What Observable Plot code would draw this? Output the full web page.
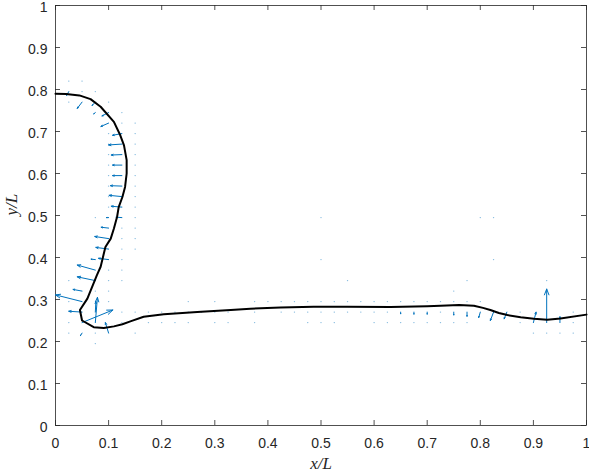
<!DOCTYPE html>
<html>
<head>
<meta charset="utf-8">
<script src="https://cdn.jsdelivr.net/npm/d3@7"></script>
<script src="https://cdn.jsdelivr.net/npm/@observablehq/plot@0.6"></script>
<style>
  html, body { margin: 0; padding: 0; background: #fff; }
</style>
</head>
<body>
<div id="chart"></div>
<script>
// ---- data ----
const xTicks = [0, 0.1, 0.2, 0.3, 0.4, 0.5, 0.6, 0.7, 0.8, 0.9, 1];
const yTicks = [0, 0.1, 0.2, 0.3, 0.4, 0.5, 0.6, 0.7, 0.8, 0.9, 1];
const xLabel = "x/L";
const yLabel = "y/L";

// interface (black curve)
const interfaceX = [0, 0.02, 0.045, 0.066, 0.085, 0.11, 0.122, 0.129, 0.134, 0.134, 0.131, 0.126, 0.119, 0.116, 0.11, 0.104, 0.094, 0.085, 0.078, 0.069, 0.06, 0.046, 0.05, 0.072, 0.091, 0.11, 0.126, 0.141, 0.166, 0.204, 0.267, 0.33, 0.367, 0.424, 0.486, 0.549, 0.631, 0.7, 0.725, 0.76, 0.788, 0.805, 0.819, 0.835, 0.851, 0.876, 0.901, 0.926, 0.951, 1.0];
const interfaceY = [0.79, 0.789, 0.786, 0.777, 0.759, 0.723, 0.691, 0.667, 0.632, 0.6, 0.568, 0.544, 0.52, 0.497, 0.469, 0.445, 0.425, 0.378, 0.358, 0.33, 0.302, 0.275, 0.25, 0.234, 0.232, 0.236, 0.241, 0.248, 0.259, 0.265, 0.27, 0.275, 0.278, 0.281, 0.283, 0.283, 0.282, 0.284, 0.285, 0.287, 0.285, 0.28, 0.275, 0.268, 0.263, 0.258, 0.254, 0.252, 0.255, 0.264];

// velocity vectors (tail position and displacement)
const arrowX = [0.025, 0.05, 0.075, 0.075, 0.1, 0.1, 0.125, 0.125, 0.125, 0.125, 0.125, 0.125, 0.125, 0.125, 0.125, 0.1, 0.1, 0.1, 0.1, 0.075, 0.1, 0.075, 0.075, 0.05, 0.05, 0.05, 0.05, 0.075, 0.075, 0.1, 0.05, 0.65, 0.675, 0.7, 0.75, 0.775, 0.8, 0.825, 0.85, 0.9, 0.925, 0.95];
const arrowY = [0.795, 0.77, 0.77, 0.745, 0.745, 0.72, 0.695, 0.67, 0.645, 0.62, 0.595, 0.57, 0.545, 0.52, 0.495, 0.495, 0.47, 0.445, 0.42, 0.395, 0.395, 0.37, 0.345, 0.32, 0.295, 0.27, 0.245, 0.245, 0.27, 0.22, 0.22, 0.27, 0.27, 0.27, 0.27, 0.27, 0.27, 0.27, 0.27, 0.245, 0.245, 0.245];
const arrowU = [-0.004, -0.009, -0.006, -0.003, -0.0125, -0.0145, -0.0175, -0.025, -0.02, -0.0175, -0.0175, -0.0215, -0.024, -0.02, -0.011, -0.004, -0.014, -0.026, -0.024, -0.008, -0.019, -0.034, -0.034, -0.017, -0.05, -0.025, 0.058, 0.004, 0.001, -0.006, -0.003, 0, 0, 0, 0, 0, -0.003, -0.006, -0.005, 0.005, 0, 0];
const arrowV = [-0.009, -0.015, -0.008, -0.003, -0.008, -0.008, -0.004, -0.002, -0.001, 0, 0, 0.001, 0.003, 0.002, 0.001, 0, 0.002, 0.005, 0.004, 0.001, 0.003, 0.012, 0.009, 0.004, 0.016, 0.002, 0.03, 0.06, 0.025, 0.025, -0.006, -0.004, -0.005, -0.005, -0.007, -0.01, -0.013, -0.02, -0.016, 0.025, 0.08, 0.014];

// near-zero vectors (drawn as dots)
const dotX = [
  0.025, 0.05, 0.05, 0.075, 0.025, 0.1, 0.125, 0.125, 0.15,
  0.1, 0.15, 0.1, 0.15, 0.1, 0.15, 0.1, 0.15, 0.1, 0.15, 0.1, 0.15, 0.1, 0.15, 0.1, 0.15,
  0.075, 0.15, 0.125, 0.15, 0.125, 0.15, 0.125, 0.15, 0.125, 0.1, 0.125, 0.025, 0.1, 0.125,
  0.075, 0.1, 0.025, 0.1, 0.125, 0.025, 0.125, 0.025, 0.075, 0.075,
  0.25, 0.3, 0.375, 0.4, 0.425, 0.45, 0.475, 0.5, 0.525, 0.55, 0.575, 0.6, 0.625, 0.65, 0.675, 0.7, 0.725, 0.75, 0.775, 0.8,
  0.15, 0.175, 0.2, 0.225, 0.25, 0.275, 0.3, 0.325, 0.375, 0.425, 0.45, 0.475, 0.5, 0.525, 0.55, 0.575, 0.6, 0.625, 0.725, 0.875, 0.975,
  0.175, 0.2, 0.225, 0.25, 0.3, 0.325, 0.375, 0.475, 0.5, 0.525, 0.6, 0.625, 0.65, 0.675, 0.7, 0.725, 0.75, 0.775, 0.875, 0.975,
  0.15, 0.9, 0.925, 0.95, 0.975,
  0.5, 0.8, 0.825, 0.5, 0.825, 0.55, 0.775, 0.925, 0.75
];
const dotY = [
  0.82, 0.82, 0.795, 0.795, 0.77, 0.77, 0.745, 0.72, 0.72,
  0.695, 0.695, 0.67, 0.67, 0.645, 0.645, 0.62, 0.62, 0.595, 0.595, 0.57, 0.57, 0.545, 0.545, 0.52, 0.52,
  0.495, 0.495, 0.47, 0.47, 0.445, 0.445, 0.42, 0.42, 0.395, 0.37, 0.37, 0.345, 0.345, 0.345,
  0.32, 0.32, 0.295, 0.295, 0.27, 0.245, 0.245, 0.22, 0.22, 0.195,
  0.295, 0.295, 0.295, 0.295, 0.295, 0.295, 0.295, 0.295, 0.295, 0.295, 0.295, 0.295, 0.295, 0.295, 0.295, 0.295, 0.295, 0.295, 0.295, 0.295,
  0.27, 0.27, 0.27, 0.27, 0.27, 0.27, 0.27, 0.27, 0.27, 0.27, 0.27, 0.27, 0.27, 0.27, 0.27, 0.27, 0.27, 0.27, 0.27, 0.27, 0.27,
  0.245, 0.245, 0.245, 0.245, 0.245, 0.245, 0.245, 0.245, 0.245, 0.245, 0.245, 0.245, 0.245, 0.245, 0.245, 0.245, 0.245, 0.245, 0.245, 0.245,
  0.22, 0.22, 0.22, 0.22, 0.22,
  0.495, 0.495, 0.495, 0.395, 0.395, 0.345, 0.345, 0.345, 0.32
];

// ---- layout ----
const W = 589, H = 476;
const mL = 55, mR = 3, mT = 5, mB = 51;
const pxX = W - mL - mR, pxY = H - mT - mB;
const blue = "#0072BD";
const axisColor = "#262626";
const tickLen = 5;

const curve = interfaceX.map((x, i) => ({x, y: interfaceY[i]}));
const arrows = arrowX.map((x, i) => ({x, y: arrowY[i], u: arrowU[i], v: arrowV[i]}));
const dots = dotX.map((x, i) => ({x, y: dotY[i]}));

const arrowMarks = arrows.map(a => {
  const len = Math.hypot(a.u * pxX, a.v * pxY);
  return Plot.arrow([a], {
    x1: "x", y1: "y",
    x2: d => d.x + d.u, y2: d => d.y + d.v,
    stroke: blue, strokeWidth: 1,
    headLength: Math.max(0.5, 0.28 * len), headAngle: 42
  });
});

const chart = Plot.plot({
  width: W, height: H,
  marginLeft: mL, marginRight: mR, marginTop: mT, marginBottom: mB,
  x: {domain: [0, 1]},
  y: {domain: [0, 1]},
  style: {fontFamily: "'Liberation Sans', Arial, Helvetica, sans-serif", fontSize: "14px", color: axisColor, background: "#fff"},
  marks: [
    Plot.frame({stroke: axisColor, strokeWidth: 0.8}),
    Plot.tickX(xTicks, {x: d => d, insetTop: pxY - tickLen, stroke: axisColor, strokeWidth: 0.8}),
    Plot.tickX(xTicks, {x: d => d, insetBottom: pxY - tickLen, stroke: axisColor, strokeWidth: 0.8}),
    Plot.tickY(yTicks, {y: d => d, insetRight: pxX - tickLen, stroke: axisColor, strokeWidth: 0.8}),
    Plot.tickY(yTicks, {y: d => d, insetLeft: pxX - tickLen, stroke: axisColor, strokeWidth: 0.8}),
    Plot.axisX({ticks: xTicks, tickSize: 0, tickPadding: 13, tickFormat: d => String(d), label: null}),
    Plot.axisY({ticks: yTicks, tickSize: 0, tickPadding: 8, tickFormat: d => String(d), label: null, dy: 2}),
    Plot.dot(dots, {x: "x", y: "y", r: 0.7, fill: blue, fillOpacity: 0.5, stroke: null}),
    ...arrowMarks,
    Plot.line(curve, {x: "x", y: "y", stroke: "#000", strokeWidth: 2}),
    Plot.text([xLabel], {frameAnchor: "bottom", dy: 43, text: d => d, fontStyle: "italic", fontFamily: "'Liberation Serif', 'DejaVu Serif', serif", fontSize: 17, fill: axisColor}),
    Plot.text([yLabel], {frameAnchor: "left", dx: -44, rotate: -90, text: d => d, fontStyle: "italic", fontFamily: "'Liberation Serif', 'DejaVu Serif', serif", fontSize: 17, fill: axisColor})
  ]
});
document.getElementById("chart").appendChild(chart);
</script>
</body>
</html>
